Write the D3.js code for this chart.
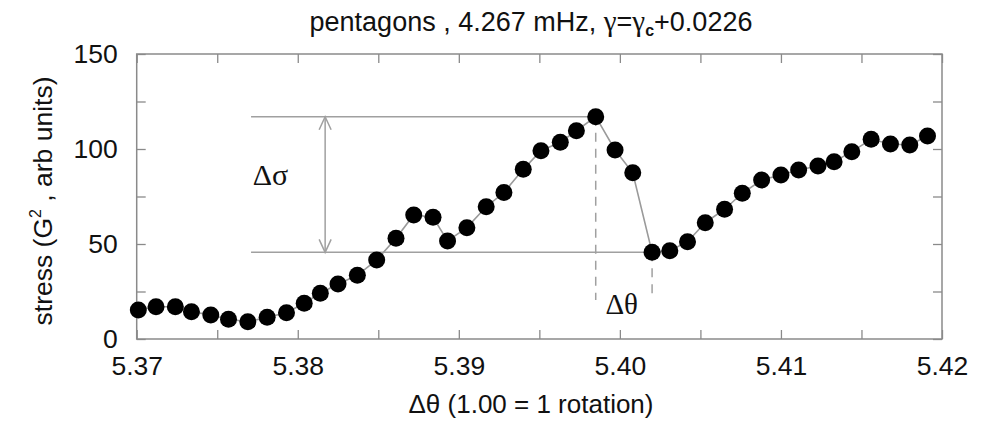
<!DOCTYPE html>
<html>
<head>
<meta charset="utf-8">
<script src="https://cdn.jsdelivr.net/npm/d3@7"></script>
<style>
  html, body { margin: 0; padding: 0; background: #fff; }
  svg { display: block; }
  text { font-family: "Liberation Sans", Arial, Helvetica, sans-serif; fill: #111; }
  .sym { font-family: "Liberation Serif", "Times New Roman", serif; }
</style>
</head>
<body>
<svg id="chart" width="990" height="422"></svg>
<script>
// Rotation offset (1.00 = 1 rotation) and measured stress (G^2, arb units)
const theta = [
  5.3701, 5.3712, 5.3724, 5.3734, 5.3746, 5.3757, 5.3769, 5.3781, 5.3793, 5.3804,
  5.3814, 5.3825, 5.3837, 5.3849, 5.3861, 5.3872, 5.3884, 5.3893, 5.3905, 5.3917,
  5.3928, 5.3940, 5.3951, 5.3963, 5.3973, 5.3985, 5.3997, 5.4008, 5.4020, 5.4031,
  5.4042, 5.4053, 5.4065, 5.4076, 5.4088, 5.4100, 5.4111, 5.4123, 5.4133, 5.4144,
  5.4156, 5.4168, 5.4180, 5.4191
];
const stress = [
  15.3, 17.0, 17.0, 14.4, 12.6, 10.4, 9.1, 11.4, 13.8, 18.8,
  24.1, 28.9, 33.5, 41.6, 53.0, 65.3, 64.1, 51.6, 58.6, 69.6,
  77.1, 89.3, 99.1, 103.5, 109.6, 117.0, 99.5, 87.5, 45.6, 46.5,
  51.2, 61.2, 68.3, 76.7, 83.7, 86.3, 88.9, 91.1, 93.3, 98.6,
  105.1, 102.6, 102.1, 106.8
];

// Axis ticks
const xMajor = [5.37, 5.38, 5.39, 5.40, 5.41, 5.42];
const xMinor = [5.375, 5.385, 5.395, 5.405, 5.415];
const yMajor = [0, 50, 100, 150];
const yMinor = [25, 75, 125];

// Annotation anchors (data units)
const sigmaLineStart = 5.3771;
const sigmaArrowX = 5.3817;
const sigmaLabel = { x: 5.3772, y: 81 };
const thetaLabel = { x: 5.3991, y: 13.2 };
const thetaDashEnd = 20.5;

(function draw() {
  const svg = d3.select("#chart");
  const pL = 136.7, pR = 942, pT = 54, pB = 339;

  const x = d3.scaleLinear().domain([5.37, 5.42]).range([pL, pR]);
  const y = d3.scaleLinear().domain([0, 150]).range([pB, pT]);

  const axisColor = "#8a8a8a";
  const tickLen = 9;

  function styleAxis(g) {
    g.select(".domain").remove();
    g.selectAll(".tick line").attr("stroke", axisColor).attr("stroke-width", 1.3);
    g.selectAll(".tick text").attr("fill", "#111").attr("font-size", 26.5)
      .attr("font-family", "Liberation Sans, Arial, sans-serif");
  }

  // bottom axis with labels
  svg.append("g").attr("transform", `translate(0,${pB})`)
    .call(d3.axisBottom(x).tickValues(xMajor).tickSize(-tickLen).tickPadding(17)
      .tickFormat(d3.format(".2f")))
    .call(styleAxis);
  svg.append("g").attr("transform", `translate(0,${pB})`)
    .call(d3.axisBottom(x).tickValues(xMinor).tickSize(-tickLen).tickFormat(""))
    .call(styleAxis);
  // top axis (ticks only)
  svg.append("g").attr("transform", `translate(0,${pT})`)
    .call(d3.axisTop(x).tickValues(xMajor.concat(xMinor)).tickSize(-tickLen).tickFormat(""))
    .call(styleAxis);
  // left axis with labels
  svg.append("g").attr("transform", `translate(${pL},0)`)
    .call(d3.axisLeft(y).tickValues(yMajor).tickSize(-tickLen).tickPadding(19)
      .tickFormat(d3.format("d")))
    .call(styleAxis);
  svg.append("g").attr("transform", `translate(${pL},0)`)
    .call(d3.axisLeft(y).tickValues(yMinor).tickSize(-tickLen).tickFormat(""))
    .call(styleAxis);
  // right axis (ticks only)
  svg.append("g").attr("transform", `translate(${pR},0)`)
    .call(d3.axisRight(y).tickValues(yMajor.concat(yMinor)).tickSize(-tickLen).tickFormat(""))
    .call(styleAxis);

  // plot frame
  svg.append("rect")
    .attr("x", pL).attr("y", pT)
    .attr("width", pR - pL).attr("height", pB - pT)
    .attr("fill", "none").attr("stroke", axisColor).attr("stroke-width", 1.5);

  // Delta-sigma / Delta-theta annotation
  const iPeak = d3.maxIndex(stress);
  const iLow = iPeak + d3.minIndex(stress.slice(iPeak));
  const hi = stress[iPeak], lo = stress[iLow];
  const annColor = "#a0a0a0";
  const ann = svg.append("g").attr("stroke", annColor).attr("stroke-width", 1.5).attr("fill", "none");

  ann.append("line")
    .attr("x1", x(sigmaLineStart)).attr("x2", x(theta[iPeak]))
    .attr("y1", y(hi)).attr("y2", y(hi));
  ann.append("line")
    .attr("x1", x(sigmaLineStart)).attr("x2", x(theta[iLow]))
    .attr("y1", y(lo)).attr("y2", y(lo));

  const ax = x(sigmaArrowX);
  ann.append("line").attr("x1", ax).attr("x2", ax).attr("y1", y(hi)).attr("y2", y(lo));
  ann.append("path").attr("d", `M${ax - 6},${y(hi) + 13}L${ax},${y(hi)}L${ax + 6},${y(hi) + 13}`);
  ann.append("path").attr("d", `M${ax - 6},${y(lo) - 13}L${ax},${y(lo)}L${ax + 6},${y(lo) - 13}`);

  ann.append("line")
    .attr("x1", x(theta[iPeak])).attr("x2", x(theta[iPeak]))
    .attr("y1", y(hi)).attr("y2", y(thetaDashEnd))
    .attr("stroke-dasharray", "9,7");
  ann.append("line")
    .attr("x1", x(theta[iLow])).attr("x2", x(theta[iLow]))
    .attr("y1", y(lo)).attr("y2", y(thetaDashEnd))
    .attr("stroke-dasharray", "9,7");

  svg.append("text").attr("class", "sym")
    .attr("x", x(sigmaLabel.x)).attr("y", y(sigmaLabel.y))
    .attr("font-size", 30).text("Δσ");
  svg.append("text").attr("class", "sym")
    .attr("x", x(thetaLabel.x)).attr("y", y(thetaLabel.y))
    .attr("font-size", 29).text("Δθ");

  // data line and markers
  const pts = theta.map((t, i) => [t, stress[i]]);
  svg.append("path")
    .datum(pts)
    .attr("fill", "none")
    .attr("stroke", "#9a9a9a")
    .attr("stroke-width", 1.6)
    .attr("d", d3.line().x(d => x(d[0])).y(d => y(d[1])));

  svg.append("g").selectAll("circle")
    .data(pts)
    .join("circle")
    .attr("cx", d => x(d[0]))
    .attr("cy", d => y(d[1]))
    .attr("r", 8.5)
    .attr("fill", "#000");

  // title
  const title = svg.append("text")
    .attr("x", 531).attr("y", 31)
    .attr("text-anchor", "middle")
    .attr("font-size", 27);
  title.append("tspan").text("pentagons , 4.267 mHz, ");
  title.append("tspan").attr("class", "sym").attr("font-size", 29).text("γ");
  title.append("tspan").text("=");
  title.append("tspan").attr("class", "sym").attr("font-size", 29).text("γ");
  title.append("tspan").attr("font-size", 16).attr("font-weight", "bold").attr("dy", 5).text("c");
  title.append("tspan").attr("dy", -5).text("+0.0226");

  // axis titles
  svg.append("text")
    .attr("x", 531).attr("y", 413)
    .attr("text-anchor", "middle")
    .attr("font-size", 26)
    .text("Δθ (1.00 = 1 rotation)");

  const yTitle = svg.append("text")
    .attr("transform", "translate(52,201) rotate(-90)")
    .attr("text-anchor", "middle")
    .attr("font-size", 26.5);
  yTitle.append("tspan").text("stress (G");
  yTitle.append("tspan").attr("font-size", 16).attr("dy", -11).text("2");
  yTitle.append("tspan").attr("dy", 11).text(" , arb units)");
})();
</script>
</body>
</html>
